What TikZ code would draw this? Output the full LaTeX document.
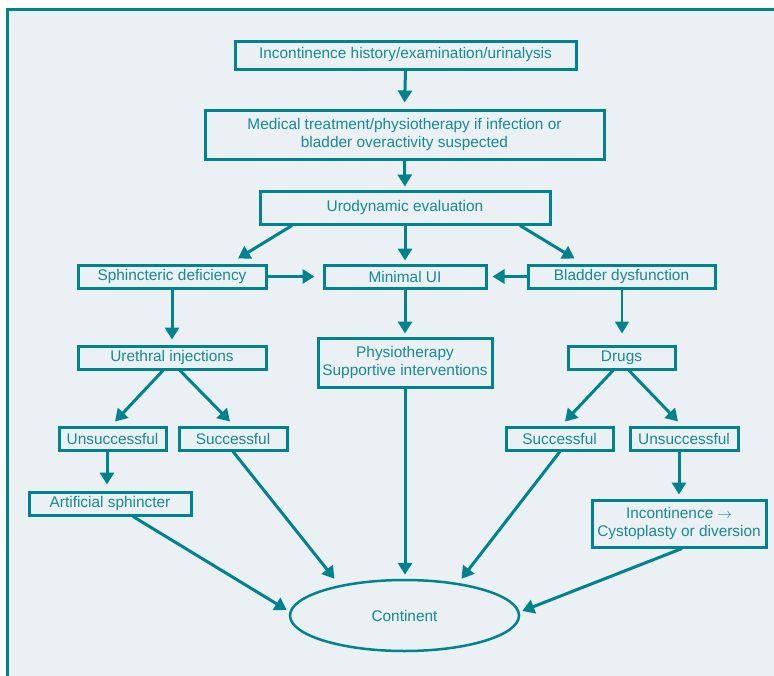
\documentclass[tikz,border=0pt]{standalone}
\usepackage{fontspec}
\setmainfont{Liberation Sans}
\usetikzlibrary{arrows.meta,calc,shapes.geometric}
\definecolor{teal1}{RGB}{0,130,143}
\definecolor{tealtxt}{RGB}{22,138,150}
\definecolor{bgc}{RGB}{234,240,243}
\tikzset{
  box/.style={draw=teal1, line width=3pt, rectangle, inner sep=0pt, align=center,
    text=tealtxt, font=\fontsize{15.4}{18}\selectfont, fill=bgc},
  oval/.style={draw=teal1, line width=2.5pt, ellipse, inner sep=0pt,
    text=tealtxt, font=\fontsize{15.4}{18}\selectfont},
  arr/.style={draw=teal1, line width=3pt, -{Triangle[length=12pt,width=14pt]}},
  thinarr/.style={draw=teal1, line width=1.8pt, -{Triangle[length=12pt,width=14pt]}}
}
\begin{document}
\begin{tikzpicture}[x=1pt,y=-1pt]
\useasboundingbox (0,0) rectangle (774,675);
\fill[bgc] (7,9.5) rectangle (776,677);
\draw[teal1, line width=3pt] (7,677) -- (7,9.5) -- (776,9.5);

\node[box, minimum width=341pt, minimum height=28pt] (b1) at (405.5,55) {Incontinence history/examination/urinalysis};
\node[box, minimum width=399pt, minimum height=49pt] (b2) at (404.5,134.5) {Medical treatment/physiotherapy if infection or\\bladder overactivity suspected};
\node[box, minimum width=290pt, minimum height=33pt] (uro) at (405,207.5) {Urodynamic evaluation};
\node[box, minimum width=188pt, minimum height=23pt] (sph) at (172,276.5) {Sphincteric deficiency};
\node[box, minimum width=162pt, minimum height=23pt] (min) at (405,276.5) {Minimal UI};
\node[box, minimum width=187pt, minimum height=23pt] (bla) at (621.5,276.5) {Bladder dysfunction};
\node[box, minimum width=188pt, minimum height=23pt] (ure) at (172,357.5) {Urethral injections};
\node[box, minimum width=174pt, minimum height=49pt] (phy) at (405,362.5) {Physiotherapy\\Supportive interventions};
\node[box, minimum width=107pt, minimum height=23pt] (drg) at (621.5,357.5) {Drugs};
\node[box, minimum width=107pt, minimum height=23pt] (uns1) at (112.5,438.5) {Unsuccessful};
\node[box, minimum width=108pt, minimum height=23pt] (suc1) at (233,438.5) {Successful};
\node[box, minimum width=107pt, minimum height=23pt] (suc2) at (559.5,438.5) {Successful};
\node[box, minimum width=108pt, minimum height=23pt] (uns2) at (684,438.5) {Unsuccessful};
\node[box, minimum width=162pt, minimum height=23pt] (art) at (110,503.5) {Artificial sphincter};
\node[box, minimum width=174pt, minimum height=47pt] (inc) at (679,523.5) {Incontinence $\rightarrow$\\Cystoplasty or diversion};
\node[oval, minimum width=229pt, minimum height=71pt] (cont) at (404.5,615.5) {Continent};

\draw[arr, shorten >=6pt] (b1.south) -- (b2.north);
\draw[arr, shorten >=3pt] (b2.south) -- (uro.north);
\draw[arr] ($(uro.south)+(-113,0)$) -- ($(sph.north)+(66,-5)$);
\draw[arr] (uro.south) -- ($(min.north)+(0,-3)$);
\draw[arr] ($(uro.south)+(115,0)$) -- ($(bla.north)+(-47,-5)$);
\draw[arr] (sph.east) -- ($(min.west)+(-8,0)$);
\draw[arr] (bla.west) -- ($(min.east)+(5,0)$);
\draw[arr] (sph.south) -- ($(ure.north)+(0,-5)$);
\draw[arr] (min.south) -- ($(phy.north)+(0,-3)$);
\draw[thinarr] ($(bla.south)+(0.5,0)$) -- ($(drg.north)+(0.5,-11)$);
\draw[arr] ($(ure.south)+(-9,0)$) -- ($(uns1.north)+(2.5,-4)$);
\draw[arr] ($(ure.south)+(8,0)$) -- ($(suc1.north)+(-3,-4)$);
\draw[arr] ($(drg.south)+(-8.5,0)$) -- ($(suc2.north)+(5.5,-4)$);
\draw[arr] ($(drg.south)+(7.5,0)$) -- ($(uns2.north)+(-6,-4)$);
\draw[arr] ($(uns1.south)+(-5.5,0)$) -- ($(art.north)+(-3,-6)$);
\draw[arr] (uns2.south -| inc.north) -- ($(inc.north)+(0,-4)$);
\draw[arr] ($(art.south)+(23,0)$) -- ($(cont.west)+(-2,-5.5)$);
\draw[arr] (suc1.south) -- ($(cont.north)+(-70,0)$);
\draw[arr] (phy.south) -- ($(cont.north)+(0.5,-4)$);
\draw[arr] ($(suc2.south)+(0.5,0)$) -- ($(cont.north)+(57,0)$);
\draw[arr] ($(inc.south)+(3,0)$) -- ($(cont.east)+(2,-4.5)$);
\end{tikzpicture}
\end{document}
